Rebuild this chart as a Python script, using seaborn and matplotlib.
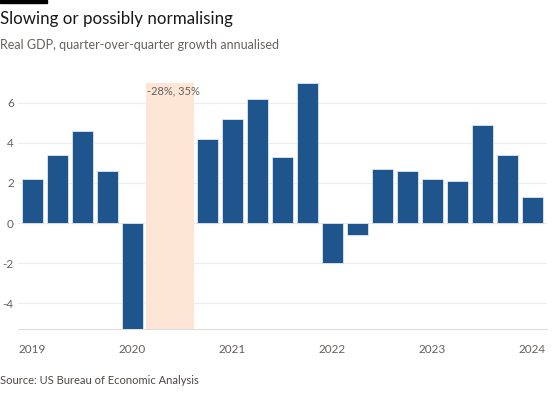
import pandas as pd
import matplotlib.pyplot as plt
import seaborn as sns

# quarterly real GDP growth, annualised (%)
quarters = ['2019Q1', '2019Q2', '2019Q3', '2019Q4',
            '2020Q1', '2020Q2', '2020Q3', '2020Q4',
            '2021Q1', '2021Q2', '2021Q3', '2021Q4',
            '2022Q1', '2022Q2', '2022Q3', '2022Q4',
            '2023Q1', '2023Q2', '2023Q3', '2023Q4',
            '2024Q1']
growth = [2.2, 3.4, 4.6, 2.6,
          -5.5, -28.0, 35.0, 4.2,
          5.2, 6.2, 3.3, 7.0,
          -2.0, -0.6, 2.7, 2.6,
          2.2, 2.1, 4.9, 3.4,
          1.3]
# quarters that are off the scale and shown as a shaded band instead
offscale = ['2020Q2', '2020Q3']
offscale_label = '-28%, 35%'
yticks = [-4, -2, 0, 2, 4, 6]

sns.set_style('white')
plt.rcParams['font.family'] = ['Lato', 'DejaVu Sans']

text_grey = '#66605c'
bar_blue = '#1e558c'

df = pd.DataFrame({'quarter': quarters, 'growth': growth})
df.loc[df.quarter.isin(offscale), 'growth'] = float('nan')

fig = plt.figure(figsize=(5.6, 4.0), dpi=100)
ax = fig.add_axes([0.032, 0.177, 0.944, 0.616])

sns.barplot(data=df, x='quarter', y='growth', order=quarters,
            color=bar_blue, saturation=1, width=0.82,
            edgecolor='#dfe7f0', linewidth=0.6, ax=ax, zorder=3)

# shaded band for the off-scale quarters
i0 = quarters.index(offscale[0])
i1 = quarters.index(offscale[-1])
ax.axvspan(i0 - 0.45, i1 + 0.45, color='#fde6d6', zorder=1, lw=0)
ax.text(i0 - 0.43, 6.85, offscale_label, color=text_grey, fontsize=8,
        ha='left', va='top', zorder=4)

ax.set_ylim(-5.3, 7.0)
ax.set_xlim(-0.58, len(quarters) - 0.43)
ax.set_yticks(yticks)
ax.set_yticklabels([str(t) for t in yticks])
ax.yaxis.grid(True, color='#efebe7', lw=0.8, zorder=0)
ax.set_axisbelow(True)

ax.set_xticks(range(len(quarters)))
ax.set_xticklabels([q[:4] if q.endswith('Q1') else '' for q in quarters])
ax.tick_params(axis='x', length=6, width=0.8, color='#e2ddd8',
               labelcolor=text_grey, labelsize=8.5, pad=5)
ax.tick_params(axis='y', length=0, labelcolor=text_grey, labelsize=8.5, pad=3)
ax.set_xlabel('')
ax.set_ylabel('')

for side in ['top', 'right', 'left']:
    ax.spines[side].set_visible(False)
ax.spines['bottom'].set_color('#e2ddd8')
ax.spines['bottom'].set_linewidth(0.8)

fig.text(0.0, 0.952, 'Slowing or possibly normalising', fontsize=12.2,
         color='#1a1817', ha='left', va='center')
fig.text(0.0, 0.888, 'Real GDP, quarter-over-quarter growth annualised',
         fontsize=9, color=text_grey, ha='left', va='center')
fig.text(0.0, 0.05, 'Source: US Bureau of Economic Analysis',
         fontsize=8, color='#4d4845', ha='left', va='center')
fig.patches.append(plt.Rectangle((0, 0.992), 0.084, 0.008, color='black',
                                 transform=fig.transFigure, figure=fig))

fig.savefig('out.png', dpi=100)
